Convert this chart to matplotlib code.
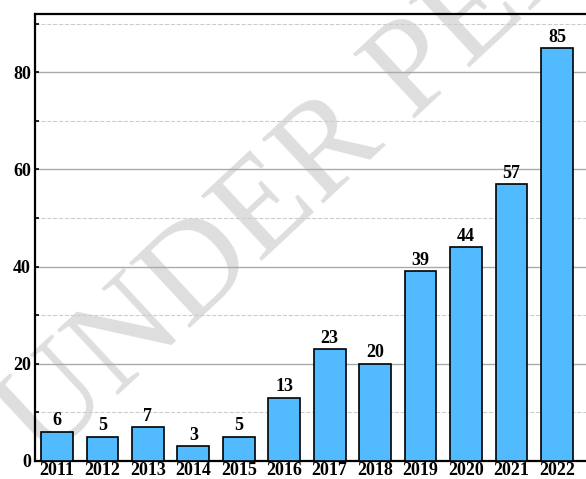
import numpy as np
import matplotlib.pyplot as plt
from matplotlib.ticker import MultipleLocator

years = ['2011', '2012', '2013', '2014', '2015', '2016',
         '2017', '2018', '2019', '2020', '2021', '2022']
counts = [6, 5, 7, 3, 5, 13, 23, 20, 39, 44, 57, 85]

plt.rcParams['font.family'] = 'Liberation Serif'
plt.rcParams['font.weight'] = 'bold'

fig = plt.figure(figsize=(5.86, 4.79), dpi=100)
ax = fig.add_axes([0.0597, 0.0376, 0.955, 0.9332])
ax.patch.set_alpha(0)
ax.set_zorder(2)

x = np.arange(len(years))
ax.bar(x, counts, width=0.7, color='#52BAFF', edgecolor='black', linewidth=1.2, zorder=3)
for xi, c in zip(x, counts):
    ax.text(xi, c + 0.5, str(c), ha='center', va='bottom', fontsize=13, fontweight='bold', zorder=4)

ax.set_xlim(-0.484, 11.83)
ax.set_ylim(0, 92)
ax.set_xticks(x)
ax.set_xticklabels(years)
ax.yaxis.set_major_locator(MultipleLocator(20))
ax.yaxis.set_minor_locator(MultipleLocator(10))
ax.grid(axis='y', which='major', color='#aaaaaa', linewidth=1.0, zorder=1)
ax.grid(axis='y', which='minor', color='#cccccc', linestyle='--', linewidth=0.8, zorder=1)
ax.tick_params(axis='both', which='both', direction='in', labelsize=13, length=3, width=1.2, pad=3)
ax.tick_params(axis='x', pad=1)
for lbl in ax.get_xticklabels() + ax.get_yticklabels():
    lbl.set_fontweight('bold')
for s in ax.spines.values():
    s.set_linewidth(1.6)

# watermark behind the axes
fig.text(0.075, 0.03, 'UNDER PEER REVIEW', rotation=43, rotation_mode='anchor',
         ha='left', va='baseline', fontsize=98, color='#dedede',
         fontweight='normal', family='Liberation Serif', zorder=0)

fig.savefig('out.png', dpi=100)
